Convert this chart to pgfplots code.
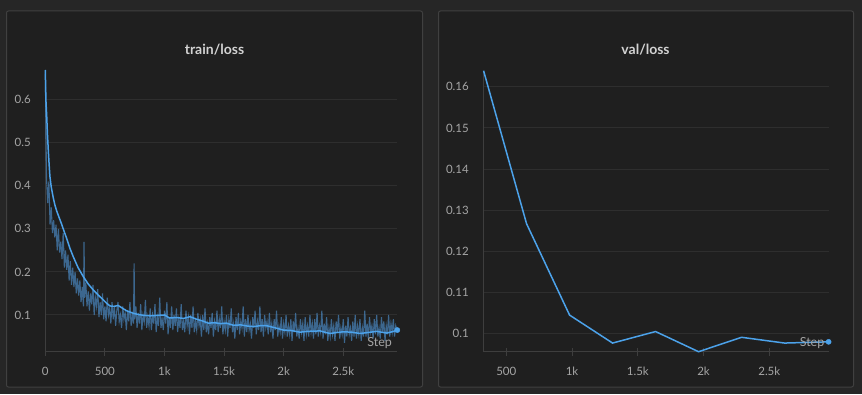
\documentclass[border=0pt]{standalone}
\usepackage{fontspec}
\setmainfont{Lato}
\usepackage{pgfplots}
\pgfplotsset{compat=1.18}
\definecolor{outerbg}{RGB}{38,38,38}
\definecolor{panelbg}{RGB}{31,31,31}
\definecolor{panelborder}{RGB}{64,64,64}
\definecolor{gridc}{RGB}{46,46,46}
\definecolor{axisc}{RGB}{62,62,62}
\definecolor{tickc}{RGB}{165,165,165}
\definecolor{titlec}{RGB}{210,210,210}
\definecolor{lineblue}{RGB}{76,162,234}
\definecolor{rawblue}{RGB}{80,152,218}
\pgfplotsset{
  wandb/.style={
    scale only axis,
    anchor=south west,
    axis x line*=bottom,
    axis y line*=left,
    axis line style={draw=axisc,line width=1pt,-},
    ymajorgrids,
    grid style={draw=gridc,line width=1pt},
    major tick length=8pt,
    tick align=center,
    xtick style={draw=axisc,line width=1pt},
    ytick style={draw=none},
    tick label style={font=\fontsize{11.5}{13}\selectfont,text=tickc},
    yticklabel style={xshift=-7pt},
    xticklabel style={yshift=-8pt},
    /pgf/number format/assume math mode=true,
    clip=false,
  }
}
\begin{document}
\begin{tikzpicture}
\fill[outerbg] (0pt,0pt) rectangle (862pt,394pt);
\filldraw[fill=panelbg,draw=panelborder,line width=1pt,rounded corners=2pt] (6.5pt,7pt) rectangle (422.5pt,383pt);
\filldraw[fill=panelbg,draw=panelborder,line width=1pt,rounded corners=2pt] (438.5pt,7pt) rectangle (853.5pt,383pt);
\node[text=titlec,font=\fontsize{14}{16}\selectfont\bfseries] at (214.5pt,344.5pt) {train/loss};
\node[text=titlec,font=\fontsize{14}{16}\selectfont\bfseries] at (645.5pt,344.5pt) {val/loss};

\begin{axis}[wandb,
  at={(45.3pt,42.3pt)}, width=352pt, height=281.7pt,
  xmin=0, xmax=2953, ymin=0.0147, ymax=0.669,
  xtick={0,500,1000,1500,2000,2500},
  xticklabels={0,500,1k,1.5k,2k,2.5k},
  ytick={0.1,0.2,0.3,0.4,0.5,0.6},
  yticklabels={0.1,0.2,0.3,0.4,0.5,0.6},
]
\addplot[rawblue,opacity=0.6,line width=1.1pt] coordinates {
(0,0.66)(10,0.42)(20,0.36)(30,0.41)(40,0.31)(50,0.35)(60,0.29)(70,0.32)(80,0.28)(90,0.31)
(100,0.25)(110,0.30)(120,0.245)(130,0.27)(140,0.23)(150,0.29)(160,0.21)(170,0.25)(180,0.205)(190,0.24)
(200,0.18)(210,0.225)(220,0.17)(230,0.21)(240,0.165)(250,0.20)(260,0.15)(270,0.185)(280,0.145)(290,0.18)
(300,0.13)(310,0.165)(320,0.12)(325,0.27)(330,0.14)(340,0.175)(350,0.12)(360,0.155)(370,0.11)(380,0.15)
(390,0.125)(400,0.17)(410,0.10)(420,0.14)(430,0.12)(440,0.16)(450,0.095)(460,0.13)(470,0.10)(480,0.15)
(490,0.09)(500,0.12)(510,0.085)(520,0.14)(530,0.10)(540,0.115)(550,0.08)(560,0.13)(570,0.09)(580,0.12)
(590,0.075)(600,0.11)(610,0.13)(620,0.085)(630,0.10)(640,0.07)(650,0.12)(660,0.09)(670,0.105)(680,0.065)
(690,0.11)(700,0.085)(710,0.13)(720,0.075)(730,0.10)(740,0.08)(745,0.22)(750,0.09)(760,0.12)(770,0.07)
(780,0.105)(790,0.08)(800,0.125)(810,0.065)(820,0.10)(830,0.085)(840,0.135)(850,0.07)(860,0.095)(870,0.075)
(880,0.115)(890,0.065)(900,0.10)(910,0.08)(920,0.125)(930,0.06)(940,0.095)(950,0.075)(960,0.14)(970,0.07)
(980,0.09)(990,0.065)(1000,0.11)(1010,0.08)(1020,0.13)(1030,0.055)(1040,0.095)(1050,0.07)(1060,0.12)(1070,0.065)
(1080,0.10)(1090,0.075)(1100,0.115)(1110,0.06)(1120,0.09)(1130,0.07)(1140,0.125)(1150,0.065)(1160,0.085)(1170,0.06)
(1180,0.11)(1190,0.075)(1200,0.095)(1210,0.055)(1220,0.10)(1230,0.07)(1240,0.12)(1250,0.06)(1260,0.085)(1270,0.065)
(1280,0.105)(1290,0.075)(1300,0.09)(1310,0.05)(1320,0.10)(1330,0.065)(1340,0.115)(1350,0.06)(1360,0.08)(1370,0.055)
(1380,0.095)(1390,0.07)(1400,0.105)(1410,0.05)(1420,0.085)(1430,0.065)(1440,0.11)(1450,0.06)(1460,0.09)(1470,0.07)
(1480,0.12)(1490,0.055)(1500,0.085)(1510,0.065)(1520,0.10)(1530,0.05)(1540,0.09)(1550,0.07)(1560,0.115)(1570,0.06)
(1580,0.08)(1590,0.045)(1600,0.095)(1610,0.065)(1620,0.105)(1630,0.055)(1640,0.085)(1650,0.07)(1660,0.12)(1670,0.05)
(1680,0.09)(1690,0.06)(1700,0.10)(1710,0.065)(1720,0.08)(1730,0.045)(1740,0.095)(1750,0.07)(1760,0.11)(1770,0.055)
(1780,0.085)(1790,0.065)(1800,0.12)(1810,0.06)(1820,0.09)(1830,0.05)(1840,0.10)(1850,0.07)(1860,0.085)(1870,0.055)
(1880,0.105)(1890,0.06)(1900,0.08)(1910,0.045)(1920,0.09)(1930,0.065)(1940,0.11)(1950,0.05)(1960,0.075)(1970,0.06)
(1980,0.095)(1990,0.045)(2000,0.08)(2010,0.06)(2020,0.10)(2030,0.05)(2040,0.075)(2050,0.055)(2060,0.09)(2070,0.04)
(2080,0.085)(2090,0.06)(2100,0.105)(2110,0.05)(2120,0.07)(2130,0.045)(2140,0.09)(2150,0.06)(2160,0.08)(2170,0.04)
(2180,0.095)(2190,0.055)(2200,0.075)(2210,0.05)(2220,0.10)(2230,0.06)(2240,0.08)(2250,0.045)(2260,0.09)(2270,0.055)
(2280,0.105)(2290,0.05)(2300,0.075)(2310,0.06)(2320,0.11)(2330,0.045)(2340,0.08)(2350,0.055)(2360,0.095)(2370,0.04)
(2380,0.07)(2390,0.05)(2400,0.09)(2410,0.055)(2420,0.075)(2430,0.04)(2440,0.085)(2450,0.06)(2460,0.10)(2470,0.045)
(2480,0.07)(2490,0.055)(2500,0.09)(2510,0.035)(2520,0.075)(2530,0.05)(2540,0.095)(2550,0.055)(2560,0.07)(2570,0.04)
(2580,0.085)(2590,0.05)(2600,0.10)(2610,0.045)(2620,0.075)(2630,0.055)(2640,0.09)(2650,0.04)(2660,0.07)(2670,0.05)
(2680,0.11)(2690,0.05)(2700,0.08)(2710,0.045)(2720,0.095)(2730,0.06)(2740,0.075)(2750,0.045)(2760,0.09)(2770,0.055)
(2780,0.10)(2790,0.05)(2800,0.07)(2810,0.045)(2820,0.095)(2830,0.06)(2840,0.085)(2850,0.04)(2860,0.075)(2870,0.055)
(2880,0.10)(2890,0.05)(2900,0.08)(2910,0.06)(2920,0.09)(2930,0.05)(2940,0.075)(2950,0.065)
};
\addplot[lineblue,line width=1.5pt] coordinates {
(0,0.669)(5,0.60)(12,0.561)(18,0.52)(25,0.483)(32,0.45)(39,0.421)(50,0.397)(67,0.372)(80,0.356)
(95,0.342)(115,0.327)(137,0.311)(158,0.294)(179,0.278)(205,0.256)(235,0.235)(275,0.210)(319,0.189)(360,0.172)
(403,0.158)(445,0.146)(487,0.135)(515,0.127)(543,0.121)(575,0.120)(612,0.122)(640,0.117)(680,0.110)(738,0.104)
(780,0.101)(830,0.099)(878,0.098)(940,0.099)(1000,0.100)(1042,0.093)(1100,0.094)(1160,0.092)(1214,0.096)(1270,0.090)
(1320,0.086)(1368,0.081)(1420,0.082)(1470,0.080)(1522,0.081)(1578,0.076)(1640,0.077)(1700,0.074)(1745,0.073)(1800,0.075)
(1857,0.075)(1930,0.070)(1997,0.065)(2060,0.064)(2137,0.060)(2200,0.062)(2305,0.063)(2388,0.057)(2440,0.059)(2500,0.061)
(2570,0.060)(2640,0.057)(2700,0.059)(2780,0.062)(2820,0.060)(2864,0.058)(2910,0.061)(2953,0.065)
};
\addplot[lineblue,only marks,mark=*,mark size=2.6pt] coordinates {(2953,0.065)};
\node[text=tickc,font=\fontsize{12.5}{14}\selectfont] at (axis cs:2805,0.035) {Step};
\end{axis}

\begin{axis}[wandb,
  at={(483.3pt,42.3pt)}, width=345.7pt, height=281pt,
  xmin=325, xmax=2954, ymin=0.0956, ymax=0.1639,
  xtick={500,1000,1500,2000,2500},
  xticklabels={500,1k,1.5k,2k,2.5k},
  ytick={0.1,0.11,0.12,0.13,0.14,0.15,0.16},
  yticklabels={0.1,0.11,0.12,0.13,0.14,0.15,0.16},
]
\addplot[lineblue,line width=1.5pt] coordinates {
(327,0.1639)(654,0.1267)(981,0.1045)(1308,0.0977)(1635,0.1005)(1962,0.0956)(2289,0.0991)(2616,0.0977)(2951,0.0980)
};
\addplot[lineblue,only marks,mark=*,mark size=2.6pt] coordinates {(2951,0.0980)};
\node[text=tickc,font=\fontsize{12.5}{14}\selectfont] at (axis cs:2825,0.0977) {Step};
\end{axis}
\end{tikzpicture}
\end{document}
